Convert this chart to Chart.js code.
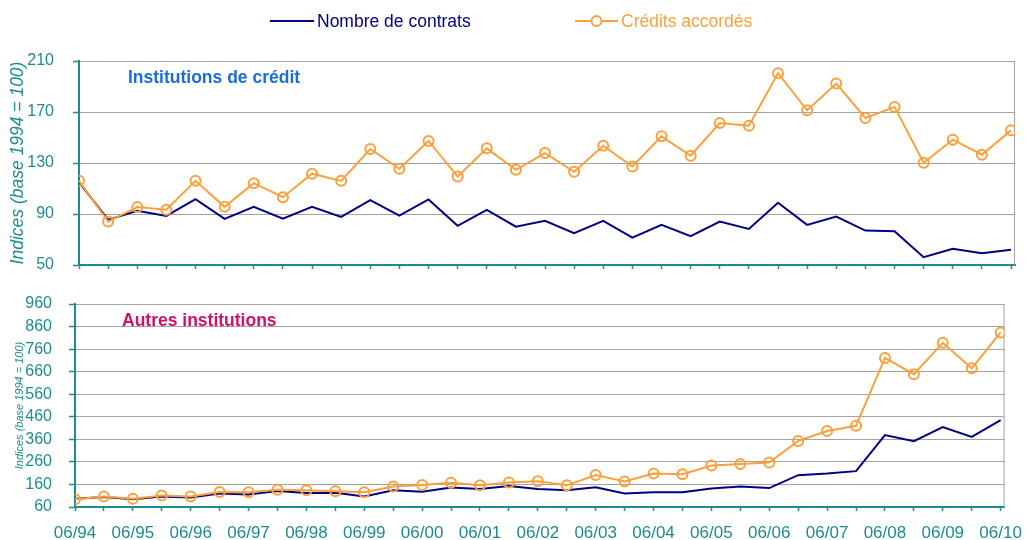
<!DOCTYPE html>
<html>
<head>
<meta charset="utf-8">
<script src="https://cdn.jsdelivr.net/npm/chart.js@4/dist/chart.umd.min.js"></script>
<style>
  body { margin: 0; background: #fff; font-family: "Liberation Sans", Arial, sans-serif; }
  #wrap { position: relative; width: 1034px; height: 540px; overflow: hidden; }
  canvas { position: absolute; left: 0; }
  #topChart { top: 0; }
  #bottomChart { top: 280px; }
  .leg { position: absolute; top: 11px; height: 20px; line-height: 20px; font-size: 17.5px; white-space: nowrap; }
  .leg svg { position: absolute; top: 0; }
  .note { position: absolute; font-weight: bold; font-size: 17.5px; line-height: 20px; white-space: nowrap; z-index: 2; }
</style>
</head>
<body>
<div id="wrap">
  <canvas id="topChart" width="1034" height="280"></canvas>
  <canvas id="bottomChart" width="1034" height="260"></canvas>
  <div class="leg" style="left:270px;color:#000080">
    <svg width="44" height="20"><line x1="0" y1="10" x2="44" y2="10" stroke="#000080" stroke-width="2"/></svg>
    <span style="position:absolute;left:47px">Nombre de contrats</span>
  </div>
  <div class="leg" style="left:575px;color:#fba03c">
    <svg width="43" height="20"><line x1="0" y1="10" x2="43" y2="10" stroke="#fba03c" stroke-width="2"/><circle cx="21.5" cy="10" r="5" fill="#fff" stroke="#fba03c" stroke-width="2"/></svg>
    <span style="position:absolute;left:46px">Crédits accordés</span>
  </div>
  <div class="note" style="left:128px;top:67px;color:#1a6fd4">Institutions de crédit</div>
  <div class="note" style="left:122px;top:310px;color:#d0106c">Autres institutions</div>
</div>
<script>
const periods = ['06/94','12/94','06/95','12/95','06/96','12/96','06/97','12/97','06/98','12/98',
  '06/99','12/99','06/00','12/00','06/01','12/01','06/02','12/02','06/03','12/03',
  '06/04','12/04','06/05','12/05','06/06','12/06','06/07','12/07','06/08','12/08',
  '06/09','12/09','06/10'];

// Institutions de crédit
const icContrats = [115, 85.4, 92.5, 88.5, 101.7, 86.2, 95.6, 86.4, 95.6, 87.7,
  100.9, 88.8, 101.4, 80.7, 93.3, 80.1, 84.6, 74.9, 84.6, 71.5,
  81.5, 72.6, 84.1, 78.3, 98.8, 81.5, 88, 77, 76.5, 56.1,
  62.8, 59.2, 62];
const icCredits = [116.1, 84.1, 95.4, 93.3, 116, 95.6, 114.2, 103.2, 121.6, 116,
  141, 125.5, 147.3, 119.4, 141.5, 124.7, 137.8, 123.1, 143.6, 127.3,
  150.9, 135.7, 161.4, 159.3, 200.4, 171.3, 192.3, 165.3, 174, 130.2,
  148.3, 136.5, 155.6];
const icTicks = [50, 90, 130, 170, 210];

// Autres institutions
const autContrats = [97, 104, 94, 107, 102, 120, 115, 131, 122, 123,
  107, 134, 128, 146, 140, 153, 140, 134, 148, 120,
  125, 125, 142, 151, 144, 201, 208, 219, 379, 352,
  414, 371, 445];
const autCredits = [94, 107, 97, 111, 107, 127, 125, 136, 134, 130,
  125, 151, 158, 167, 156, 169, 174, 156, 202, 173,
  208, 205, 244, 251, 257, 353, 397, 420, 721, 649,
  788, 675, 834];
const autTicks = [60, 160, 260, 360, 460, 560, 660, 760, 860, 960];

const TEAL = '#1e8c8c';
const NAVY = '#000080';
const ORANGE = '#fba03c';
const GRID = '#a3a3a3';
const FONT = '"Liberation Sans", Arial, sans-serif';

// Excel-like plot frame: gray line on the right edge
const rightBorder = {
  id: 'rightBorder',
  beforeDatasetsDraw(chart) {
    const { ctx, chartArea: a } = chart;
    ctx.save();
    ctx.strokeStyle = GRID;
    ctx.lineWidth = 1;
    ctx.beginPath();
    ctx.moveTo(a.right - 0.5, a.top);
    ctx.lineTo(a.right - 0.5, a.bottom);
    ctx.stroke();
    ctx.restore();
  }
};

function buildPanel(id, contrats, credits, yTicks, cfg) {
  const xMax = periods.length - 1 + 0.137;
  return new Chart(document.getElementById(id), {
    type: 'line',
    data: {
      labels: periods.map((p, i) => i),
      datasets: [
        { label: 'Crédits accordés', data: credits, borderColor: ORANGE, borderWidth: 2,
          pointRadius: 5, pointBorderWidth: 2, pointBorderColor: ORANGE,
          pointBackgroundColor: 'rgba(255,255,255,0)', tension: 0 },
        { label: 'Nombre de contrats', data: contrats, borderColor: NAVY, borderWidth: 2,
          pointRadius: 0, tension: 0 }
      ]
    },
    options: {
      responsive: false,
      animation: false,
      layout: { padding: { top: cfg.padTop, right: cfg.padRight, left: 0, bottom: 0 } },
      plugins: { legend: { display: false }, tooltip: { enabled: false } },
      scales: {
        x: {
          type: 'linear', min: 0, max: xMax,
          afterBuildTicks: s => { s.ticks = periods.map((p, i) => ({ value: i })); },
          afterFit: s => { s.height = cfg.xHeight; },
          grid: { drawOnChartArea: false, drawTicks: true, tickLength: 4, tickColor: TEAL, tickWidth: 1.5 },
          border: { color: TEAL, width: 2 },
          ticks: {
            autoSkip: false, maxRotation: 0, padding: 12,
            color: TEAL, font: { size: 17, family: FONT },
            callback: v => (cfg.xLabels && periods[v] && periods[v].startsWith('06')) ? periods[v] : ''
          }
        },
        y: {
          min: yTicks[0], max: yTicks[yTicks.length - 1],
          afterBuildTicks: s => { s.ticks = yTicks.map(v => ({ value: v })); },
          afterFit: s => { s.width = cfg.yWidth; s.paddingTop = 0; s.paddingBottom = 0; },
          grid: { color: GRID, lineWidth: 1, tickColor: TEAL, tickLength: 6, tickWidth: 1.5 },
          border: { color: TEAL, width: 2 },
          ticks: { color: TEAL, padding: cfg.yPad, font: { size: 16, family: FONT } },
          title: {
            display: true, text: 'Indices (base 1994 = 100)', color: TEAL,
            font: { size: cfg.titleSize, style: 'italic', family: FONT },
            padding: { top: cfg.titlePad, bottom: 0 }
          }
        }
      }
    },
    plugins: [rightBorder]
  });
}

buildPanel('topChart', icContrats, icCredits, icTicks,
  { padTop: 61, padRight: 19, xHeight: 15, yWidth: 79, yPad: 19, titleSize: 17.5, titlePad: 7.5, xLabels: false });
buildPanel('bottomChart', autContrats, autCredits, autTicks,
  { padTop: 24, padRight: 20, xHeight: 33, yWidth: 75, yPad: 17, titleSize: 11, titlePad: 13, xLabels: true });
</script>
</body>
</html>
